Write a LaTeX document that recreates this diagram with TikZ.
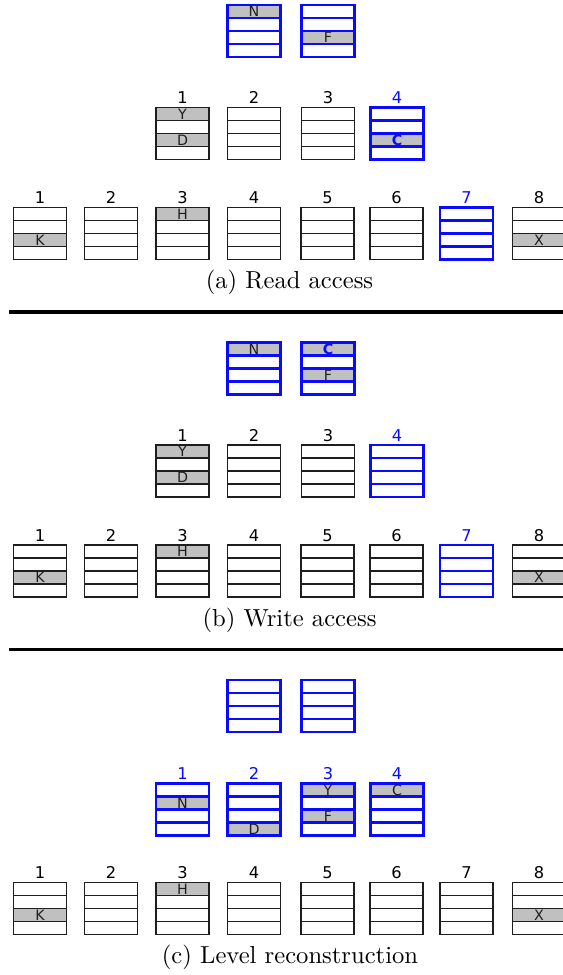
\documentclass[tikz,border=0pt]{standalone}
\usepackage{fontspec}
\newfontfamily\cellfont{DejaVu Sans}
\usetikzlibrary{calc}
\definecolor{cellgray}{RGB}{192,192,192}
\definecolor{lineblue}{RGB}{10,10,255}
\definecolor{inkgray}{RGB}{30,30,30}

\tikzset{
  cell/.style={draw, inner sep=0pt, minimum width=21.54pt, minimum height=5.285pt, fill=white},
  plain/.style={draw=inkgray, line width=0.45pt},
  hot/.style={draw=lineblue, line width=0.85pt},
  filled/.style={fill=cellgray},
  celltxt/.style={font=\cellfont\fontsize{5.8}{6}\selectfont, text=inkgray, inner sep=0pt},
  numlbl/.style={font=\cellfont\fontsize{6.6}{7}\selectfont, inner sep=0pt, anchor=base},
  caption/.style={font=\fontsize{10}{12}\selectfont, anchor=base, inner sep=0pt},
  rule/.style={line width=1.25pt},
}

% the freshly moved element, set in bold blue
\newcommand\movedC{{\color{lineblue}\bfseries C}}

% one cell of a bucket: name, row, centre x, top y, style, content
\newcommand\mkcell[6]{%
  \if\relax\detokenize{#6}\relax
    \node[cell,#5] (#1-#2) at (#3,{#4+13*#2-6.5}) {};
  \else
    \node[cell,#5,filled] (#1-#2) at (#3,{#4+13*#2-6.5}) {};
    \node[celltxt] (#1-#2t) at (#1-#2) {#6};
  \fi}
% a bucket of four cells: name, centre x, top y, style, four contents
\newcommand\blk[8]{%
  \mkcell{#1}{1}{#2}{#3}{#4}{#5}%
  \mkcell{#1}{2}{#2}{#3}{#4}{#6}%
  \mkcell{#1}{3}{#2}{#3}{#4}{#7}%
  \mkcell{#1}{4}{#2}{#3}{#4}{#8}}
% index above a bucket: name, centre x, top y, colour, text
\newcommand\idx[5]{%
  \node[numlbl,text=#4] (#1) at (#2,{#3-3.9}) {#5};}
% the leaf level, identical in every panel: prefix, top y, style of bucket 7
\newcommand\leaves[3]{%
  \blk{#1L1}{40}{#2}{plain}{}{}{K}{}
  \blk{#1L2}{111}{#2}{plain}{}{}{}{}
  \blk{#1L3}{182.5}{#2}{plain}{H}{}{}{}
  \blk{#1L4}{254}{#2}{plain}{}{}{}{}
  \blk{#1L5}{327.5}{#2}{plain}{}{}{}{}
  \blk{#1L6}{396.5}{#2}{plain}{}{}{}{}
  \blk{#1L7}{466.5}{#2}{#3}{}{}{}{}
  \blk{#1L8}{539}{#2}{plain}{}{}{X}{}
  \idx{#1n1}{40}{#2}{black}{1}
  \idx{#1n2}{111}{#2}{black}{2}
  \idx{#1n3}{182.5}{#2}{black}{3}
  \idx{#1n4}{254}{#2}{black}{4}
  \idx{#1n5}{327.5}{#2}{black}{5}
  \idx{#1n6}{396.5}{#2}{black}{6}
  \idx{#1n8}{539}{#2}{black}{8}}

\begin{document}
\begin{tikzpicture}[x=0.4065pt, y=-0.4065pt]
  \useasboundingbox (0,0) rectangle (563,975);

  % ---------- (a) read access ----------
  \blk{aT1}{254}{5}{hot}{N}{}{}{}
  \blk{aT2}{328}{5}{hot}{}{}{F}{}
  \blk{aM1}{182.5}{107.5}{plain}{Y}{}{D}{}
  \blk{aM2}{254}{107.5}{plain}{}{}{}{}
  \blk{aM3}{328}{107.5}{plain}{}{}{}{}
  \blk{aM4}{397}{107.5}{hot}{}{}{\movedC}{}
  \idx{aMn1}{182.5}{107.5}{black}{1}
  \idx{aMn2}{254}{107.5}{black}{2}
  \idx{aMn3}{328}{107.5}{black}{3}
  \idx{aMn4}{397}{107.5}{lineblue}{4}
  \leaves{a}{207.5}{hot}
  \idx{an7}{466.5}{207.5}{lineblue}{7}
  \node[caption] (capa) at (289.5,288.5) {(a) Read access};
  \coordinate (ra) at (9,312);
  \coordinate (rb) at (575,312);
  \draw[rule] (ra) -- (rb);

  % ---------- (b) write access ----------
  \blk{bT1}{254}{342.5}{hot}{N}{}{}{}
  \blk{bT2}{328}{342.5}{hot}{\movedC}{}{F}{}
  \blk{bM1}{182.5}{445}{plain}{Y}{}{D}{}
  \blk{bM2}{254}{445}{plain}{}{}{}{}
  \blk{bM3}{328}{445}{plain}{}{}{}{}
  \blk{bM4}{397}{445}{hot}{}{}{}{}
  \idx{bMn1}{182.5}{445}{black}{1}
  \idx{bMn2}{254}{445}{black}{2}
  \idx{bMn3}{328}{445}{black}{3}
  \idx{bMn4}{397}{445}{lineblue}{4}
  \leaves{b}{545}{hot}
  \idx{bn7}{466.5}{545}{lineblue}{7}
  \node[caption] (capb) at (289.5,626) {(b) Write access};
  \coordinate (rc) at (9,649.5);
  \coordinate (rd) at (575,649.5);
  \draw[rule] (rc) -- (rd);

  % ---------- (c) level reconstruction ----------
  \blk{cT1}{254}{680}{hot}{}{}{}{}
  \blk{cT2}{328}{680}{hot}{}{}{}{}
  \blk{cM1}{182.5}{783.5}{hot}{}{N}{}{}
  \blk{cM2}{254}{783.5}{hot}{}{}{}{D}
  \blk{cM3}{328}{783.5}{hot}{Y}{}{F}{}
  \blk{cM4}{397}{783.5}{hot}{C}{}{}{}
  \idx{cMn1}{182.5}{783.5}{lineblue}{1}
  \idx{cMn2}{254}{783.5}{lineblue}{2}
  \idx{cMn3}{328}{783.5}{lineblue}{3}
  \idx{cMn4}{397}{783.5}{lineblue}{4}
  \leaves{c}{882.5}{plain}
  \idx{cn7}{466.5}{882.5}{black}{7}
  \node[caption] (capc) at (290,963.5) {(c) Level reconstruction};
\end{tikzpicture}
\end{document}
